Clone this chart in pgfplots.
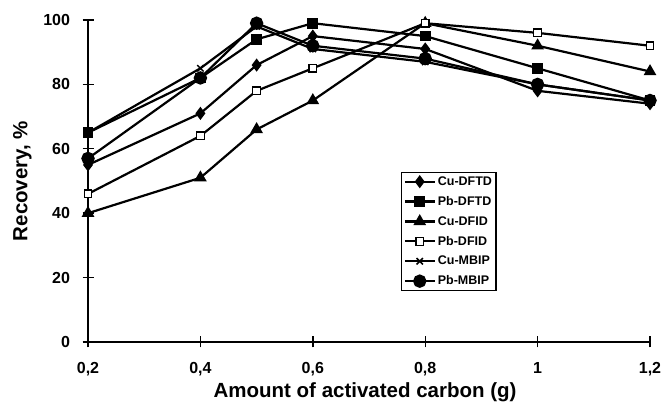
\documentclass[border=0pt]{standalone}
\usepackage{fontspec}
\setmainfont{Liberation Sans}
\usepackage{pgfplots}
\pgfplotsset{compat=1.18}

\begin{document}
\begin{tikzpicture}
\begin{axis}[scale only axis,width=562pt,height=322pt,
xmin=0.2,xmax=1.2,ymin=0,ymax=100,clip=false,
axis lines*=left,axis line style={line width=1.4pt},
tick align=center,major tick length=11pt,
every tick/.style={line width=1.4pt,black},
xtick={0.2,0.4,0.6,0.8,1,1.2},
xticklabels={{0,2},{0,4},{0,6},{0,8},1,{1,2}},
ytick={0,20,40,60,80,100},
/pgf/number format/assume math mode=true,
tick label style={font=\bfseries\fontsize{16}{16}\selectfont},
xticklabel style={yshift=-11pt},
yticklabel style={xshift=-9pt},
xlabel={Amount of activated carbon (g)},
ylabel={Recovery, \%},
every axis x label/.style={at={(rel axis cs:0.493,-0.155)},anchor=center,
  font=\bfseries\fontsize{20.5}{20.5}\selectfont},
every axis y label/.style={at={(rel axis cs:-0.117,0.5)},rotate=90,anchor=center,
  font=\bfseries\fontsize{20.5}{20.5}\selectfont},
every axis plot/.append style={line width=2.2pt,black},
legend style={at={(rel axis cs:0.557,0.528)},anchor=north west,
  font=\bfseries\fontsize{12.5}{14}\selectfont,draw=black,line width=1.2pt,
  inner sep=2pt,row sep=5.5pt},
legend cell align=left,
legend image code/.code={\draw[mark repeat=2,mark phase=2,#1]
  plot coordinates {(0pt,0pt)(15pt,0pt)(30pt,0pt)};},
]
\addplot[mark=diamond*,mark size=4.8pt] coordinates {
(0.2,55) (0.4,71) (0.5,86) (0.6,95) (0.8,91) (1,78) (1.2,74)};
\addlegendentry{Cu-DFTD}
\addplot[mark=square*,mark size=4.3pt] coordinates {
(0.2,65) (0.4,82) (0.5,94) (0.6,99) (0.8,95) (1,85) (1.2,75)};
\addlegendentry{Pb-DFTD}
\addplot[mark=triangle*,mark size=5.2pt] coordinates {
(0.2,40) (0.4,51) (0.5,66) (0.6,75) (0.8,99) (1,92) (1.2,84)};
\addlegendentry{Cu-DFID}
\addplot[mark=square*,mark size=3.8pt,mark options={fill=white,line width=1.3pt}] coordinates {
(0.2,46) (0.4,64) (0.5,78) (0.6,85) (0.8,99) (1,96) (1.2,92)};
\addlegendentry{Pb-DFID}
\addplot[mark=x,mark size=4.5pt,mark options={line width=1.5pt}] coordinates {
(0.2,65) (0.4,85) (0.5,98) (0.6,91) (0.8,87) (1,80) (1.2,75)};
\addlegendentry{Cu-MBIP}
\addplot[mark=*,mark size=5.6pt] coordinates {
(0.2,57) (0.4,82) (0.5,99) (0.6,92) (0.8,88) (1,80) (1.2,75)};
\addlegendentry{Pb-MBIP}
\coordinate (bl) at (rel axis cs:-0.1566,-0.2143);
\coordinate (tr) at (rel axis cs:1.0231,1.0621);
\end{axis}
\pgfresetboundingbox
\useasboundingbox (bl) rectangle (tr);
\end{tikzpicture}
\end{document}
